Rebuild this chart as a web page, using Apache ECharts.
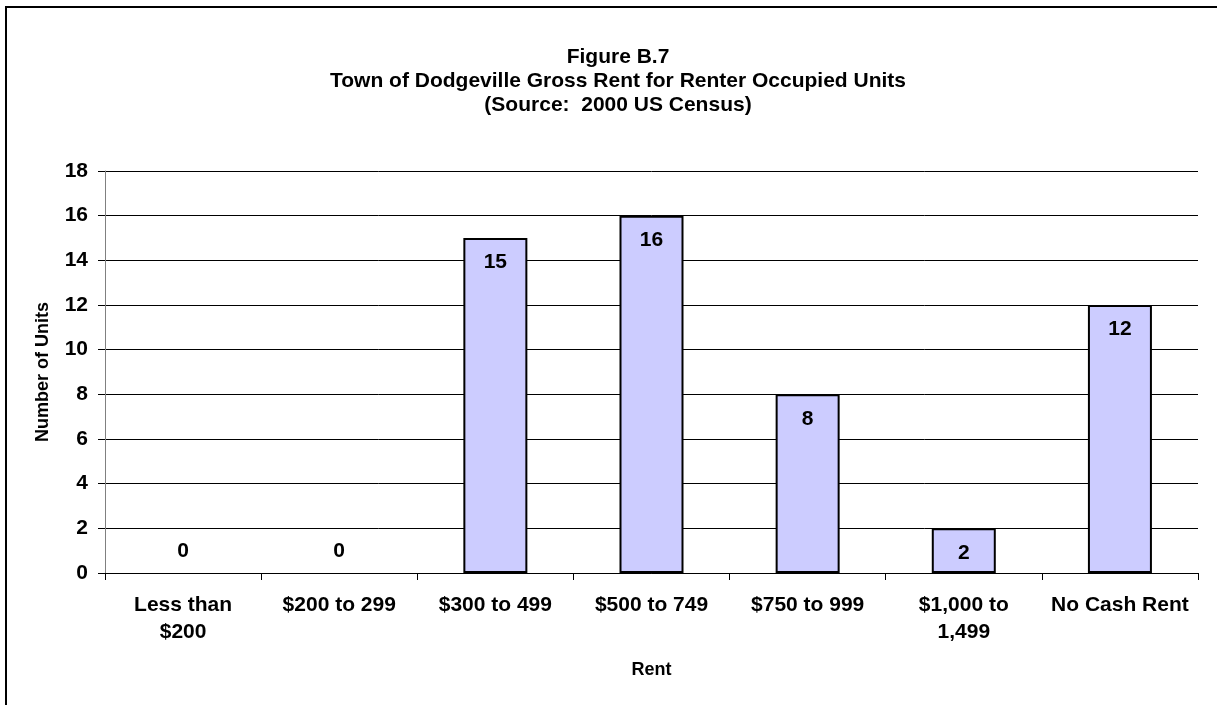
<!DOCTYPE html>
<html>
<head>
<meta charset="utf-8">
<title>Figure B.7</title>
<script src="https://cdn.jsdelivr.net/npm/echarts@6/dist/echarts.min.js"></script>
<style>
  html, body { margin: 0; padding: 0; background: #fff; }
  #chart { width: 1217px; height: 705px; }
</style>
</head>
<body>
<div id="chart"></div>
<script>
// values
const categories = ['Less than\n$200', '$200 to 299', '$300 to 499', '$500 to 749', '$750 to 999', '$1,000 to\n1,499', 'No Cash Rent']
const units = [0, 0, 15, 16, 8, 2, 12]
const titleLines = ['Figure B.7', 'Town of Dodgeville Gross Rent for Renter Occupied Units', '(Source:  2000 US Census)']

const font = 'Liberation Sans, Arial, sans-serif'

let chart = echarts.init(document.getElementById('chart'))

// zero bars: no outline, label sits above the axis; others label inside the top
const barData = units.map(function (v) {
  if (v === 0) {
    return {
      value: v,
      itemStyle: { borderWidth: 0 },
      label: { position: 'top', distance: 11 }
    }
  }
  return v
})

const options = {
  animation: false,
  backgroundColor: '#fff',
  graphic: [{
    type: 'rect',
    shape: { x: 6, y: 7, width: 1400, height: 1000 },
    style: { fill: 'none', stroke: '#000', lineWidth: 2 },
    silent: true
  }],
  title: {
    text: titleLines.join('\n'),
    left: 613,
    top: 40,
    textAlign: 'center',
    textStyle: {
      fontFamily: font,
      fontWeight: 'bold',
      fontSize: 21,
      lineHeight: 24,
      color: '#000'
    }
  },
  grid: {
    left: 105,
    right: 19,
    top: 171,
    bottom: 132,
    containLabel: false
  },
  xAxis: {
    type: 'category',
    data: categories,
    name: 'Rent',
    nameLocation: 'middle',
    nameGap: 88,
    nameTextStyle: { fontFamily: font, fontWeight: 'bold', fontSize: 18, color: '#000' },
    axisLine: { lineStyle: { color: '#000', width: 1 } },
    axisTick: { show: true, length: 7, lineStyle: { color: '#000' } },
    axisLabel: {
      interval: 0,
      margin: 19,
      fontFamily: font,
      fontWeight: 'bold',
      fontSize: 21,
      lineHeight: 27,
      color: '#000'
    }
  },
  yAxis: {
    type: 'value',
    min: 0,
    max: 18,
    interval: 2,
    name: 'Number of Units',
    nameLocation: 'middle',
    nameGap: 53,
    nameTextStyle: { fontFamily: font, fontWeight: 'bold', fontSize: 18, color: '#000' },
    axisLine: { show: true, lineStyle: { color: '#808080', width: 1 } },
    axisTick: { show: true, length: 7, lineStyle: { color: '#000' } },
    axisLabel: {
      margin: 17,
      fontFamily: font,
      fontWeight: 'bold',
      fontSize: 21,
      color: '#000'
    },
    splitLine: { show: true, lineStyle: { color: '#000', width: 1 } }
  },
  series: [{
    name: 'Units',
    type: 'bar',
    data: barData,
    barWidth: 64,
    itemStyle: {
      color: '#CCCCFF',
      borderColor: '#000',
      borderWidth: 2
    },
    label: {
      show: true,
      position: 'insideTop',
      distance: 14,
      fontFamily: font,
      fontWeight: 'bold',
      fontSize: 21,
      color: '#000'
    }
  }]
}

chart.setOption(options)
</script>
</body>
</html>
